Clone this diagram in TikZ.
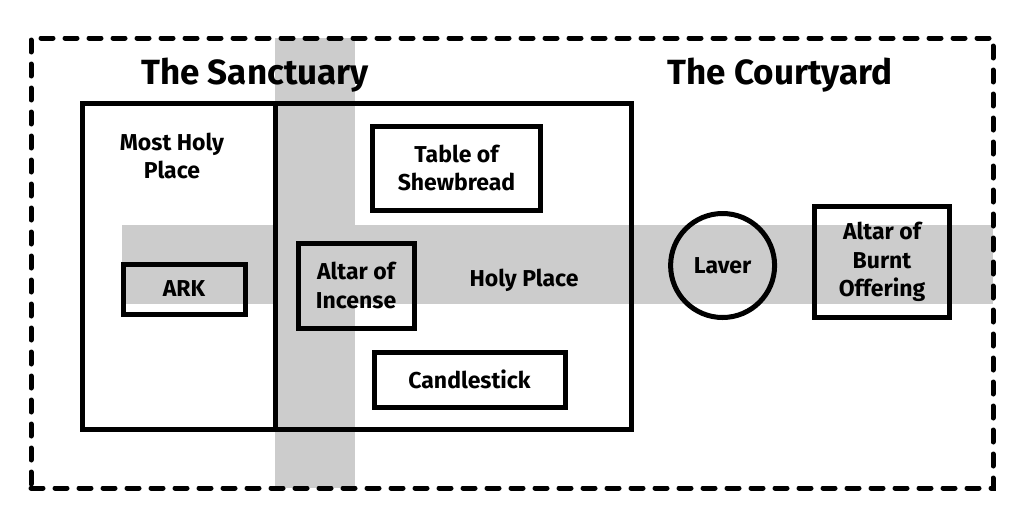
\documentclass[tikz,border=0pt]{standalone}
\usepackage{fontspec}
\setmainfont{Fira Sans}
\definecolor{band}{RGB}{204,204,204}
\tikzset{
  box/.style={draw=black, line width=5pt, inner sep=0pt, align=center, font=\labelfont},
  lbl/.style={inner sep=0pt, align=center, font=\labelfont},
  title/.style={inner sep=0pt, font=\titlefont},
  dashedwall/.style={draw=black, line width=5pt, dash pattern=on 12pt off 12pt, line cap=round, inner sep=0pt}
}
\newcommand{\labelfont}{\bfseries\fontsize{23}{28.5}\selectfont}
\newcommand{\titlefont}{\bfseries\fontsize{35}{40}\selectfont}
\begin{document}
\begin{tikzpicture}[x=1pt,y=-1pt]
\useasboundingbox (0,0) rectangle (1024,522);
% gray bands
\fill[band] (122,225) rectangle (993,304);
\fill[band] (275,38) rectangle (355,488);
% courtyard
\node[dashedwall, minimum width=962pt, minimum height=450pt] (court) at (512,263) {};
% sanctuary rooms
\node[box, minimum width=193pt, minimum height=326pt] (mhp) at (178.5,266) {};
\node[box, minimum width=356pt, minimum height=326pt] (hp) at (453,266) {};
% titles
\node[title] (tsan) at (255,75) {The Sanctuary};
\node[title] (tcourt) at (780,75) {The Courtyard};
% labels
\node[lbl] (mhplbl) at (172,156) {Most Holy\\Place};
\node[lbl] (hplbl) at (524,280) {Holy Place};
% furniture
\node[box, minimum width=122pt, minimum height=50pt] (ark) at (184,289) {ARK};
\node[box, minimum width=116pt, minimum height=85pt] (incense) at (356,285.5) {Altar of\\Incense};
\node[box, minimum width=168pt, minimum height=84pt] (table) at (456.5,168) {Table of\\Shewbread};
\node[box, minimum width=191pt, minimum height=55pt] (candle) at (469.5,379.5) {Candlestick};
\node[box, circle, minimum size=104pt] (laver) at (722.6,265.5) {Laver};
\node[box, minimum width=135pt, minimum height=111pt] (burnt) at (882,262) {Altar of\\Burnt\\Offering};
\end{tikzpicture}
\end{document}
